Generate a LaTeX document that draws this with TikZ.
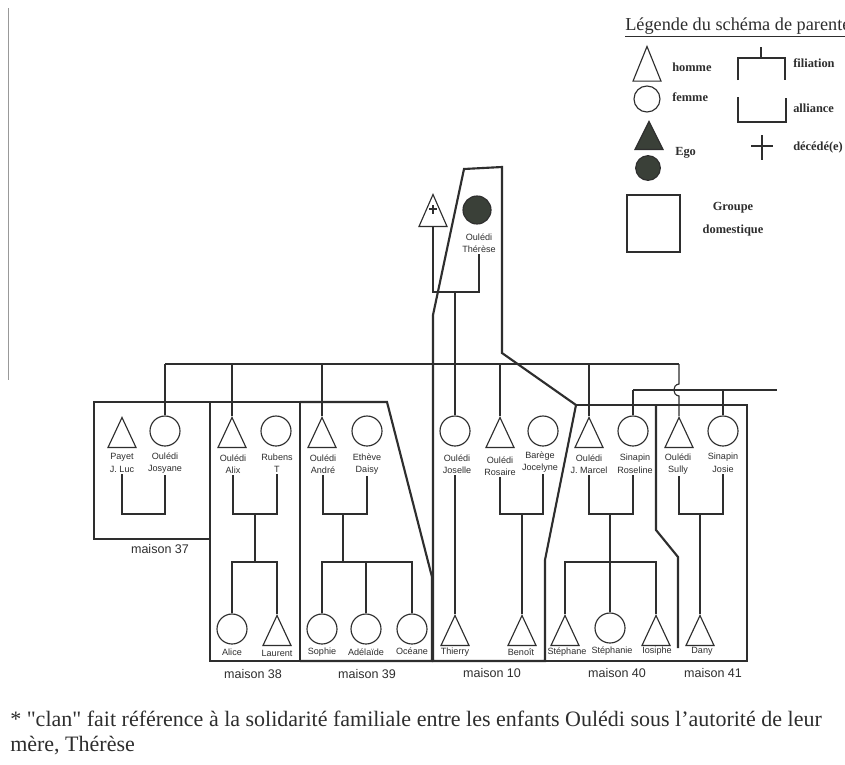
\documentclass[tikz,border=0pt]{standalone}
\usepackage{fontspec}
\setmainfont{Liberation Serif}
\setsansfont{Liberation Sans}
\usetikzlibrary{shapes.geometric,calc}
\definecolor{ink}{HTML}{2E2E2E}
\definecolor{egofill}{HTML}{3A4038}
\begin{document}
\begin{tikzpicture}[x=0.75pt,y=-0.75pt,
  conn/.style={draw=ink, line width=0.85pt},
  hbox/.style={draw=ink, line width=1.6pt, line join=miter},
  man/.style={isosceles triangle, isosceles triangle stretches, shape border rotate=90,
    minimum width=21pt, minimum height=22.5pt, inner sep=0pt, draw=ink, line width=0.85pt},
  woman/.style={circle, minimum size=22.5pt, inner sep=0pt, draw=ink, line width=0.85pt},
  pname/.style={font=\sffamily\fontsize{6.8}{9.4}\selectfont, align=center, inner sep=1pt, text=ink},
  house/.style={font=\sffamily\fontsize{9.4}{11}\selectfont, text=ink, inner sep=0pt},
  leg/.style={font=\bfseries\fontsize{9.3}{10.5}\selectfont, text=ink, anchor=west, inner sep=0pt},
  note/.style={anchor=base west, inner sep=0pt, text=ink, font=\fontsize{16.5}{20}\selectfont},
]
\useasboundingbox (0,0) rectangle (845,764);
\fill[white] (0,0) rectangle (845,764);
\draw[black!40, line width=0.5pt] (8,8) -- (8,380);

% ---------------- Legend ----------------
\node[anchor=base west, inner sep=0pt, text=ink, font=\fontsize{13.7}{16}\selectfont] (legtitle) at (625,30) {\underline{Légende du schéma de parenté}};
\node[man, anchor=apex, minimum width=21pt, minimum height=26pt] (lman) at (647,45) {};
\node[leg] (lhomme) at (672,67) {homme};
\node[woman, minimum size=19.5pt] (lwoman) at (647,99) {};
\node[leg] (lfemme) at (672,97) {femme};
\node[man, anchor=apex, minimum width=21pt, minimum height=21pt, fill=egofill] (lego1) at (649,120) {};
\node[woman, minimum size=18.5pt, fill=egofill] (lego2) at (648,168) {};
\node[leg] (lego) at (675,153) {Ego};
\draw[conn] (738,80) -- (738,58) -- (785,58) -- (785,80);
\draw[conn] (761,58) -- (761,47);
\node[leg] (lfil) at (793,63) {filiation};
\draw[conn] (738,97) -- (738,122) -- (786,122) -- (786,98);
\node[leg] (lall) at (793,108) {alliance};
\draw[conn] (751,146) -- (773,146) (762,135) -- (762,160);
\node[leg] (ldec) at (793,148) {décédé(e)};
\draw[hbox, line width=1.2pt] (627,195) rectangle (680,252);
\node[leg, anchor=center, align=center, font=\bfseries\fontsize{9.3}{17}\selectfont] (lgroupe) at (733,219) {Groupe\\domestique};

% ---------------- Houses ----------------
\draw[hbox] (210,402) -- (94,402) -- (94,539) -- (210,539);
\draw[hbox] (210,402) -- (300,402) -- (300,661) -- (210,661) -- cycle;
\draw[hbox] (300,402) -- (387,402) -- (432,577) -- (432,661) -- (300,661);
\draw[hbox] (464,169) -- (502,167) -- (502,353) -- (576,405) -- (545,560) -- (545,661) -- (433,661) -- (433,315) -- cycle;
\draw[hbox] (576,405) -- (747,405) -- (747,661) -- (545,661);
\draw[hbox] (656,405) -- (656,530) -- (678,557) -- (678,648);

\node[house] (h37) at (160,549) {maison 37};
\node[house] (h38) at (253,674) {maison 38};
\node[house] (h39) at (367,674) {maison 39};
\node[house] (h10) at (492,673) {maison 10};
\node[house] (h40) at (617,673) {maison 40};
\node[house] (h41) at (713,673) {maison 41};

% ---------------- Generation 1 ----------------
\node[woman, fill=egofill, minimum size=21pt] (therese) at (477,210) {};
\node[pname] (thereseL) at (479,243) {Oulédi\\Thérèse};
\node[man, anchor=apex, minimum height=24pt] (mari) at (433,193) {};
\draw[conn] (429,209) -- (437,209) (433,205) -- (433,214);

% ---------------- Generation 2 ----------------
\node[man, anchor=apex] (jluc) at (122,416) {};
\node[pname] (jlucL) at (122,463) {Payet\\J. Luc};
\node[woman] (josyane) at (165,431) {};
\node[pname] (josyaneL) at (165,463) {Oulédi\\Josyane};

\node[man, anchor=apex] (alix) at (232,416) {};
\node[pname] (alixL) at (233,464) {Oulédi\\Alix};
\node[woman] (rubens) at (276,431) {};
\node[pname] (rubensL) at (277,463) {Rubens\\T};

\node[man, anchor=apex] (andre) at (322,416) {};
\node[pname] (andreL) at (323,464) {Oulédi\\André};
\node[woman] (daisy) at (367,431) {};
\node[pname] (daisyL) at (367,464) {Ethève\\Daisy};

\node[woman] (joselle) at (455,431) {};
\node[pname] (joselleL) at (457,464) {Oulédi\\Joselle};

\node[man, anchor=apex] (rosaire) at (500,416) {};
\node[pname] (rosaireL) at (500,466) {Oulédi\\Rosaire};
\node[woman] (jocelyne) at (543,431) {};
\node[pname] (jocelyneL) at (540,462) {Barège\\Jocelyne};

\node[man, anchor=apex] (jmarcel) at (589,416) {};
\node[pname] (jmarcelL) at (589,464) {Oulédi\\J. Marcel};
\node[woman] (roseline) at (633,431) {};
\node[pname] (roselineL) at (635,464) {Sinapin\\Roseline};

\node[man, anchor=apex] (sully) at (679,416) {};
\node[pname] (sullyL) at (678,464) {Oulédi\\Sully};
\node[woman] (josie) at (723,431) {};
\node[pname] (josieL) at (723,463) {Sinapin\\Josie};

% ---------------- Generation 3 ----------------
\node[woman] (alice) at (232,629) {};
\node[pname] (aliceL) at (232,652) {Alice};
\node[man, anchor=apex] (laurent) at (277,614) {};
\node[pname] (laurentL) at (277,653) {Laurent};

\node[woman] (sophie) at (322,629) {};
\node[pname] (sophieL) at (322,652) {Sophie};
\node[woman] (adelaide) at (366,629) {};
\node[pname] (adelaideL) at (366,652) {Adélaïde};
\node[woman] (oceane) at (412,629) {};
\node[pname] (oceaneL) at (412,651) {Océane};

\node[man, anchor=apex] (thierry) at (455,614) {};
\node[pname] (thierryL) at (455,652) {Thierry};
\node[man, anchor=apex] (benoit) at (522,614) {};
\node[pname] (benoitL) at (521,652) {Benoît};

\node[man, anchor=apex] (stephane) at (565,614) {};
\node[pname] (stephaneL) at (567,652) {Stéphane};
\node[woman] (stephanie) at (610,628) {};
\node[pname] (stephanieL) at (612,651) {Stéphanie};
\node[man, anchor=apex] (iosiphe) at (656,614) {};
\node[pname] (iosipheL) at (657,651) {Iosiphe};

\node[man, anchor=apex] (dany) at (700,614) {};
\node[pname] (danyL) at (702,651) {Dany};

% ---------------- Connectors ----------------
\coordinate (al) at (0,292);
\coordinate (desc) at (455,292);
\draw[conn] (mari.south) |- (thereseL.south |- al) -- (thereseL.south);
\draw[conn] (desc) -- (joselle.north);

\coordinate (sib) at (0,364);
\coordinate (sib2) at (0,390);
\coordinate (sibEnd) at (777,390);
\draw[conn] (josyane.north |- sib) -- (sully.apex |- sib);
\draw[conn] (josyane.north |- sib) -- (josyane.north);
\draw[conn] (alix.apex |- sib) -- (alix.apex);
\draw[conn] (andre.apex |- sib) -- (andre.apex);
\draw[conn] (rosaire.apex |- sib) -- (rosaire.apex);
\draw[conn] (jmarcel.apex |- sib) -- (jmarcel.apex);
\draw[conn] (sully.apex |- sib) -- ($(sully.apex |- sib2)+(0,-6)$)
   .. controls ($(sully.apex |- sib2)+(-7,-5)$) and ($(sully.apex |- sib2)+(-7,5)$) .. ($(sully.apex |- sib2)+(0,6)$)
   -- (sully.apex);
\draw[conn] (roseline.north |- sib2) -- (sibEnd);
\draw[conn] (roseline.north |- sib2) -- (roseline.north);
\draw[conn] (josie.north |- sib2) -- (josie.north);

% couples
\coordinate (c37) at (143,514);
\draw[conn] (jlucL.south) |- (c37) -| (josyaneL.south);

\coordinate (c38) at (255,514);
\coordinate (k38) at (255,562);
\draw[conn] (alixL.south) |- (c38) -| (rubensL.south);
\draw[conn] (c38) -- (k38);
\draw[conn] (alice.north) |- (k38) -| (laurent.apex);

\coordinate (c39) at (343,514);
\coordinate (k39) at (343,562);
\draw[conn] (andreL.south) |- (c39) -| (daisyL.south);
\draw[conn] (c39) -- (k39);
\draw[conn] (sophie.north) |- (k39) -| (oceane.north);
\draw[conn] (adelaide.north) -- (adelaide.north |- k39);

\draw[conn] (joselleL.south -| thierry.apex) -- (thierry.apex);

\coordinate (c10) at (522,514);
\draw[conn] (rosaireL.south) |- (c10) -| (jocelyne.south |- jocelyneL.south);
\draw[conn] (c10) -- (benoit.apex);

\coordinate (c40) at (610,514);
\coordinate (k40) at (610,562);
\draw[conn] (jmarcelL.south) |- (c40) -| (roselineL.south -| roseline.south);
\draw[conn] (c40) -- (stephanie.north);
\draw[conn] (stephane.apex) |- (k40) -| (iosiphe.apex);

\coordinate (c41) at (700,514);
\draw[conn] (sullyL.south -| sully.south) |- (c41) -| (josieL.south);
\draw[conn] (c41) -- (dany.apex);

% ---------------- Footnote ----------------
\node[note] (note1) at (10,726) {* \textquotedbl clan\textquotedbl{} fait référence à la solidarité familiale entre les enfants Oulédi sous l'autorité de leur};
\node[note] (note2) at (10,751) {mère, Thérèse};
\end{tikzpicture}
\end{document}
